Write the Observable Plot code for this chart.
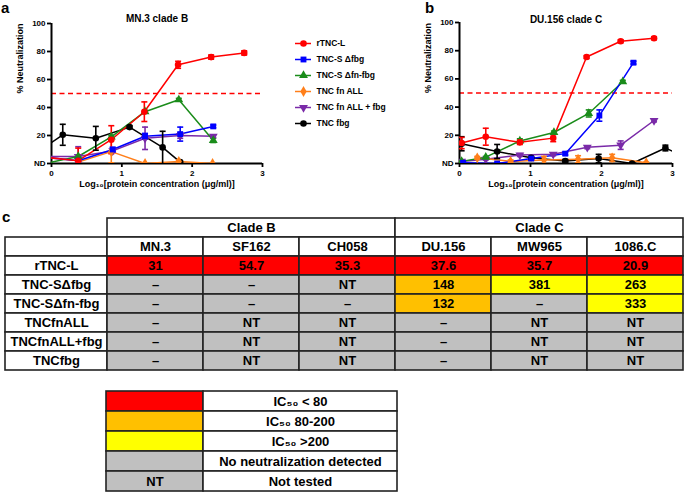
<!DOCTYPE html>
<html><head><meta charset="utf-8">
<script src="https://cdn.jsdelivr.net/npm/d3@7"></script>
<script src="https://cdn.jsdelivr.net/npm/@observablehq/plot@0.6"></script>
<style>
body{margin:0;background:#fff;}
#fig{position:relative;width:685px;height:493px;overflow:hidden;font-family:Arial,"Liberation Sans",Helvetica,sans-serif;}
#fig > *{position:absolute;}
.pl{font-weight:bold;font-size:15px;line-height:1;color:#000;}
</style></head><body><div id="fig"></div>
<script>
// ---------- data ----------
const seriesNames = ["rTNC-L","TNC-S Δfbg","TNC-S Δfn-fbg","TNC fn ALL","TNC fn ALL + fbg","TNC fbg"];
const seriesColors = ["#ff0000","#0000ff","#1a8c1a","#ff7f1a","#7a2aa8","#000000"];
const xTicks = [0,1,2,3];
const yTicks = [0,20,40,60,80,100];

// MN.3 clade B : [log10 conc, % neutralization, error]
const mn3_rTNCL   = [[-0.1,4.5,0],[0.38,2,9],[0.85,17,10],[1.32,37,7],[1.8,70.5,2.5],[2.27,76,1.5],[2.74,79,1.5]];
const mn3_dfbg    = [[-0.1,4.5,0],[0.38,2,1],[0.87,10,1.5],[1.33,19.5,2],[1.83,21,5],[2.3,26.5,1]];
const mn3_dfnfbg  = [[-0.1,0,0],[0.38,5,1],[0.85,19,1],[1.33,37,1],[1.81,45.5,1],[2.3,16.5,1.5]];
const mn3_fnALL   = [[0.38,1,2],[0.85,8.5,8],[1.33,0,0],[1.81,1.5,1],[2.29,0,0]];
const mn3_fnALLfbg= [[-0.1,5,0],[0.38,5,7],[0.87,9,1],[1.33,18,8],[1.83,20,2],[2.3,19.5,1]];
const mn3_fbg     = [[-0.32,4,0],[0.16,20.5,7.5],[0.63,18,8.5],[1.11,26,1],[1.58,11.5,11.5],[1.83,1,0]];

// DU.156 clade C
const du_rTNCL    = [[0.03,14.5,4],[0.37,19,6],[0.85,15,1.5],[1.32,18,2.5],[1.79,75.5,1],[2.27,86.7,1],[2.74,88.8,1]];
const du_dfbg     = [[0.05,0.5,1],[0.53,0,0.5],[1.01,3.5,1],[1.49,7,1],[1.97,34,4],[2.45,71.5,1]];
const du_dfnfbg   = [[0.03,1.5,0],[0.37,4.5,0.5],[0.85,16,1.5],[1.33,22,1],[1.82,35.5,2.5],[2.3,58,1]];
const du_fnALL    = [[0.25,4,1],[0.72,1.5,1],[1.19,2.5,2.5],[1.67,3,2.5],[2.15,4,2.5],[2.63,0.5,0.5]];
const du_fnALLfbg = [[0.03,1.5,0],[0.37,3,0.5],[0.85,6,1],[1.32,6.5,1],[1.8,11.5,1],[2.27,13,3],[2.74,30.5,1]];
const du_fbg      = [[0.03,14,5],[0.53,8.5,5],[1.01,4,1],[1.49,1.8,1],[1.96,3.5,3],[2.43,0,0],[2.9,11,2],[3.38,0,0]];

// table c
const clades = ["Clade B","Clade C"];
const strains = ["MN.3","SF162","CH058","DU.156","MW965","1086.C"];
const proteins = ["rTNC-L","TNC-SΔfbg","TNC-SΔfn-fbg","TNCfnALL","TNCfnALL+fbg","TNCfbg"];
const ic50 = [
  ["31","54.7","35.3","37.6","35.7","20.9"],
  ["–","–","NT","148","381","263"],
  ["–","–","–","132","–","333"],
  ["–","NT","NT","–","NT","NT"],
  ["–","NT","NT","–","NT","NT"],
  ["–","NT","NT","–","NT","NT"]
];
const keyColors = ["#ff0000","#ffc000","#ffff00","#c0c0c0","#c0c0c0"];
const keySwatchText = ["","","","","NT"];
const keyLabels = ["IC₅₀ < 80","IC₅₀ 80-200","IC₅₀ >200","No neutralization detected","Not tested"];

// ---------- helpers ----------
const FONT = "Arial, 'Liberation Sans', Helvetica, sans-serif";
const fig = document.getElementById("fig");
function place(el, left, top){ el.style.left = left+"px"; el.style.top = top+"px"; fig.appendChild(el); return el; }
function label(txt, left, top){ const d=document.createElement("div"); d.className="pl"; d.textContent=txt; place(d,left,top); }
const capSymbol = { draw(ctx, size){ const w = Math.sqrt(size/Math.PI); ctx.moveTo(-w,0); ctx.lineTo(w,0); } };
const symbolRange = [d3.symbolCircle, d3.symbolSquare, d3.symbolTriangle, d3.symbolDiamond, d3.symbolTriangle, d3.symbolCircle];
const rotFor = s => s === "TNC fn ALL + fbg" ? 180 : 0;

function chart(series, o){
  const data = series.map((pts,i)=>pts.map(([x,y,e])=>({s:seriesNames[i],x,y,e}))).reverse().flat();
  const errs = data.filter(d=>d.e>0);
  return Plot.plot({
    width:o.width, height:200, marginLeft:o.mL, marginRight:o.mR, marginTop:o.mT, marginBottom:37,
    x:{domain:[0,3]}, y:{domain:[0,100]},
    color:{domain:seriesNames, range:seriesColors},
    symbol:{domain:seriesNames, range:symbolRange},
    style:{fontFamily:FONT, fontSize:"8px", fontWeight:"bold", color:"#000", background:"transparent", overflow:"visible"},
    marks:[
      Plot.axisX({ticks:xTicks, tickSize:4, tickPadding:3, strokeWidth:1.8, tickFormat:d=>d, label:null, fontSize:8, fontWeight:"bold"}),
      Plot.axisY({ticks:yTicks, tickSize:4, tickPadding:2, strokeWidth:1.8, tickFormat:d=>d===0?"ND":d, label:null, fontSize:8, fontWeight:"bold"}),
      Plot.ruleY([50], {stroke:"#ff0000", strokeWidth:1.5, strokeDasharray:"5,3.5"}),
      Plot.ruleX([0], {strokeWidth:2}),
      Plot.ruleY([0], {strokeWidth:2}),
      Plot.line(data, {x:"x", y:"y", z:"s", stroke:"s", strokeWidth:1.5, clip:true}),
      Plot.ruleX(errs, {x:"x", y1:d=>Math.max(0,d.y-d.e), y2:d=>d.y+d.e, stroke:"s", strokeWidth:1.6, clip:true}),
      Plot.dot(errs, {x:"x", y:d=>d.y+d.e, symbol:capSymbol, r:3, stroke:"s", fill:"none", strokeWidth:1.6, clip:true}),
      Plot.dot(errs.filter(d=>d.y-d.e>0), {x:"x", y:d=>d.y-d.e, symbol:capSymbol, r:3, stroke:"s", fill:"none", strokeWidth:1.6, clip:true}),
      Plot.dot(data, {x:"x", y:"y", symbol:"s", fill:"s", r:3.3, rotate:d=>rotFor(d.s), clip:true}),
      Plot.text([o.title], {frameAnchor:"top", dy:o.titleDy, fontSize:10, fontWeight:"bold"}),
      Plot.text(["Log₁₀[protein concentration (μg/ml)]"], {frameAnchor:"bottom", dy:23, fontSize:9, fontWeight:"bold"}),
      Plot.text(["% Neutralization"], {frameAnchor:"left", rotate:-90, dx:-31, fontSize:9, fontWeight:"bold"})
    ]
  });
}

// ---------- charts a & b ----------
place(chart([mn3_rTNCL,mn3_dfbg,mn3_dfnfbg,mn3_fnALL,mn3_fnALLfbg,mn3_fbg],
  {width:290, mL:51, mR:28, mT:23, title:"MN.3 clade B", titleDy:-9}), 0, 0);
place(chart([du_rTNCL,du_dfbg,du_dfnfbg,du_fnALL,du_fnALLfbg,du_fbg],
  {width:295, mL:69, mR:13, mT:22, title:"DU.156 clade C", titleDy:-7}), 390, 0);

// legend for a/b
place(Plot.plot({
  width:140, height:150, margin:0,
  x:{domain:[0,1], range:[10,26], axis:null},
  y:{type:"point", domain:seriesNames, range:[32,133], axis:null},
  color:{domain:seriesNames, range:seriesColors},
  symbol:{domain:seriesNames, range:symbolRange},
  style:{fontFamily:FONT, background:"transparent", overflow:"visible"},
  marks:[
    Plot.ruleY(seriesNames, {y:d=>d, x1:0, x2:1, stroke:d=>d, strokeWidth:1.5}),
    Plot.dot(seriesNames, {x:0.5, y:d=>d, symbol:d=>d, fill:d=>d, r:3.3, rotate:rotFor}),
    Plot.text(seriesNames, {x:1, y:d=>d, dx:5, textAnchor:"start", fontSize:8.5, fontWeight:"bold"})
  ]
}), 285, 0);

label("a", 1, 0);
label("b", 425, 0);
label("c", 2, 209);

// ---------- table c ----------
function cellColor(v){
  const n = parseFloat(v);
  if (isNaN(n)) return "#c0c0c0";
  return n < 80 ? "#ff0000" : n <= 200 ? "#ffc000" : "#ffff00";
}
const ROWS = ["hdr", ...proteins];
const tableStyle = {fontFamily:FONT, background:"transparent", overflow:"visible"};
function grid(cells, xDomain, yDomain, width, height){
  return Plot.plot({
    width, height, margin:1,
    x:{domain:xDomain, padding:0, axis:null},
    y:{domain:yDomain, padding:0, axis:null},
    color:{type:"identity"},
    style:tableStyle,
    marks:[
      Plot.cell(cells, {x:"c", y:"r", fill:"f", stroke:"#222", strokeWidth:1.6}),
      Plot.text(cells, {x:"c", y:"r", text:"t", fontSize:13, fontWeight:"bold", fill:"#000"})
    ]
  });
}
// clade header
place(grid(clades.map(c=>({c, r:"clade", t:c, f:"#ffffff"})), clades, ["clade"], 578, 21), 106, 217);
// row labels
place(grid(ROWS.map(r=>({c:"lbl", r, t:r==="hdr"?"":r, f:"#ffffff"})), ["lbl"], ROWS, 104, 135), 4, 236);
// values
const valueCells = [];
strains.forEach((s,j)=>{
  valueCells.push({c:s, r:"hdr", t:s, f:"#ffffff"});
  proteins.forEach((p,i)=>valueCells.push({c:s, r:p, t:ic50[i][j], f:cellColor(ic50[i][j])}));
});
place(grid(valueCells, strains, ROWS, 578, 135), 106, 236);

// key
place(grid(keyLabels.map((k,i)=>({c:"sw", r:k, t:keySwatchText[i], f:keyColors[i]})), ["sw"], keyLabels, 99, 105), 105, 388);
place(grid(keyLabels.map(k=>({c:"lab", r:k, t:k, f:"#ffffff"})), ["lab"], keyLabels, 196, 105), 202, 388);
</script></body></html>
